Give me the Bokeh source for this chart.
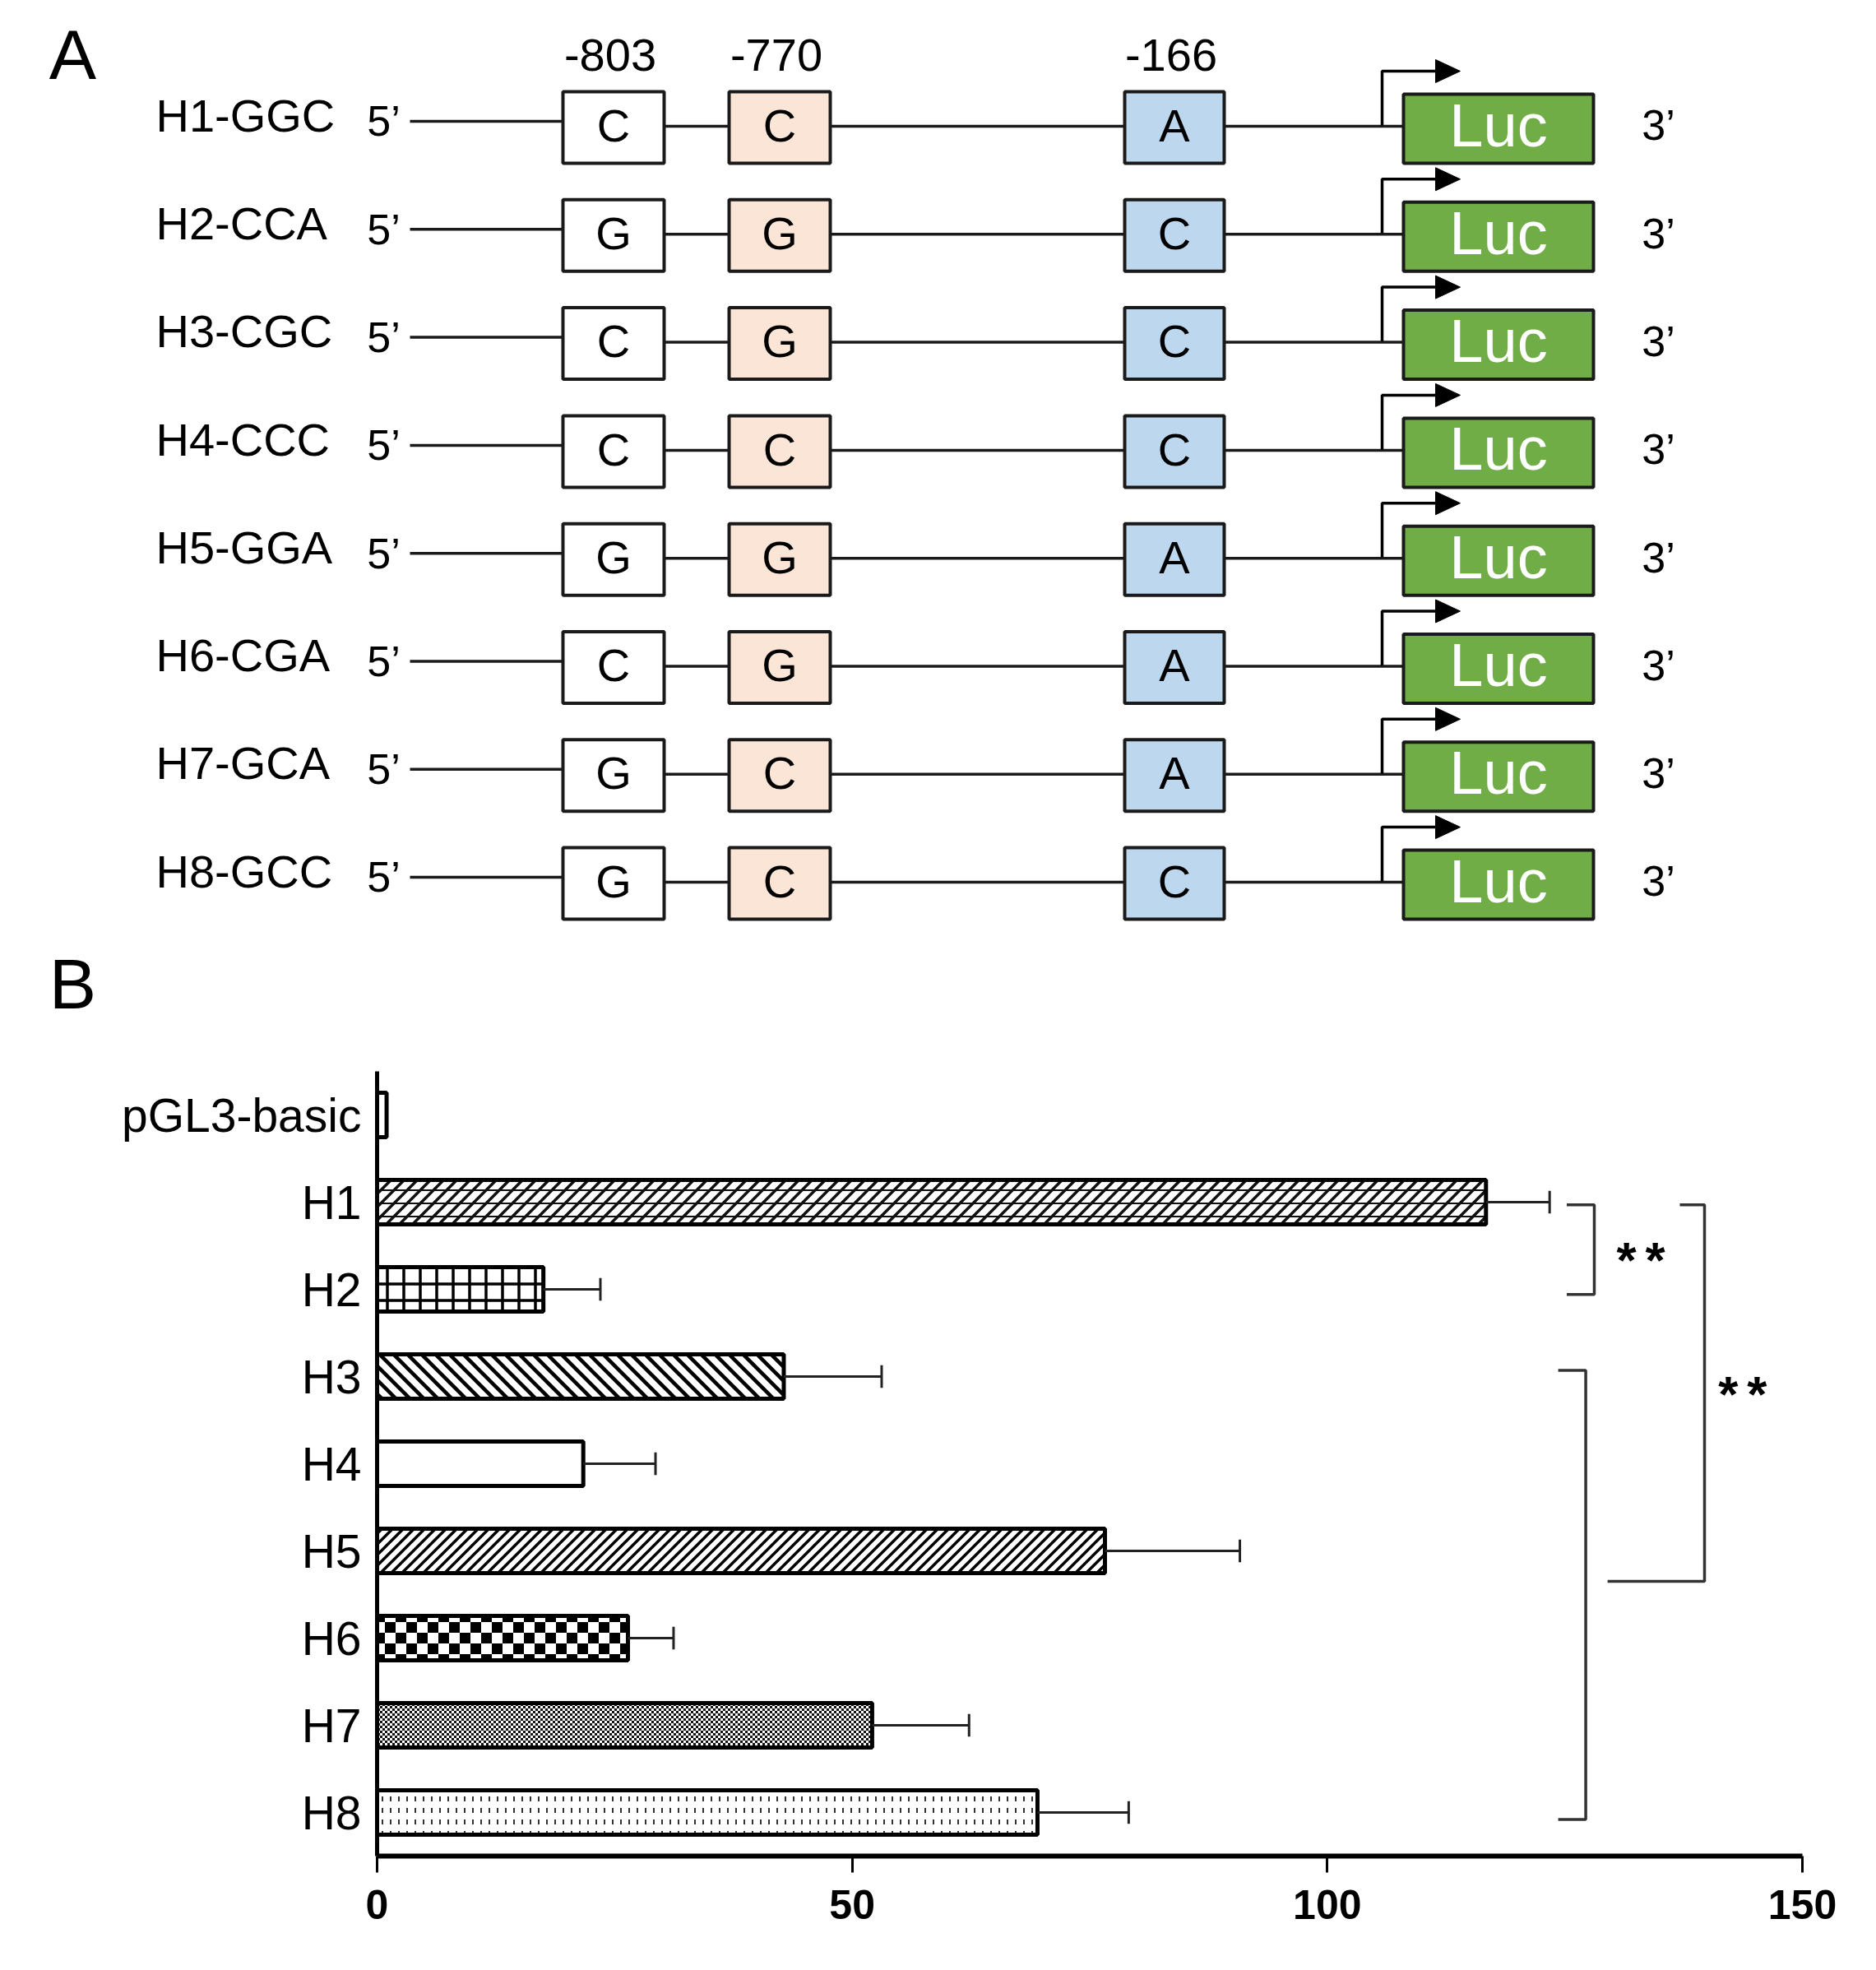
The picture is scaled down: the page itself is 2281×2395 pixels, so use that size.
from bokeh.plotting import figure
from bokeh.models import Range1d, FixedTicker, CanvasTexture
from bokeh.core.properties import value
from bokeh.embed import file_html
from bokeh.resources import INLINE

# ---------------- data ----------------
haplotypes = ["H1-GGC", "H2-CCA", "H3-CGC", "H4-CCC", "H5-GGA", "H6-CGA", "H7-GCA", "H8-GCC"]
snp_labels = ["-803", "-770", "-166"]
allele_803 = ["C", "G", "C", "C", "G", "C", "G", "G"]
allele_770 = ["C", "G", "G", "C", "G", "G", "C", "C"]
allele_166 = ["A", "C", "C", "C", "A", "A", "A", "C"]
reporter = "Luc"

constructs = ["pGL3-basic", "H1", "H2", "H3", "H4", "H5", "H6", "H7", "H8"]
activity = [1.0, 116.7, 17.5, 42.8, 21.7, 76.6, 26.4, 52.1, 69.5]
activity_err = [0.0, 6.7, 6.0, 10.3, 7.6, 14.2, 4.8, 10.2, 9.6]
x_ticks = [0, 50, 100, 150]
sig_label = "**"

# ---------------- style ----------------
FONT = "Liberation Sans"
W = 2265
HA = 1270
HB = 1109
INK = "#1a1a1a"

# ================= Panel A =================
pa = figure(width=W, height=HA, x_range=Range1d(0, W), y_range=Range1d(HA, 0),
            x_axis_type=None, y_axis_type=None, output_backend="svg",
            toolbar_location=None, min_border=0, outline_line_color=None)

n = len(haplotypes)
ROW0, ROW_STEP = 155.0, 131.3
rows = [ROW0 + i * ROW_STEP for i in range(n)]


def txt(p, xs, ys, texts, fs, align="center", color="black", style="normal"):
    # ys are the wanted centres of the capital letters
    p.text(x=xs, y=[y - 0.06 * fs for y in ys], text=texts, text_font=value(FONT),
           text_font_size=value(f"{fs}px"), text_align=align, text_baseline="alphabetic",
           text_color=color, text_font_style=style)


# panel letters
txt(pa, [88], [71], ["A"], 86)
txt(pa, [88], [1201], ["B"], 86)

# row labels, 5' and 3'
txt(pa, [189] * n, [y - 12 for y in rows], haplotypes, 56, align="left")
txt(pa, [466] * n, [y - 5 for y in rows], ["5\u2019"] * n, 52)
txt(pa, [2016] * n, [y for y in rows], ["3\u2019"] * n, 52)

# connecting lines
BOX_X = [745.5, 947.5, 1427.5]
BOX_W = [123, 123, 121]
BOX_H = 87
LUC_X, LUC_W, LUC_H = 1821.5, 231, 84
x0s, x1s, y0s = [], [], []
for y in rows:
    x0s += [498, BOX_X[0] + BOX_W[0] / 2, BOX_X[1] + BOX_W[1] / 2, BOX_X[2] + BOX_W[2] / 2]
    x1s += [BOX_X[0] - BOX_W[0] / 2, BOX_X[1] - BOX_W[1] / 2, BOX_X[2] - BOX_W[2] / 2, LUC_X - LUC_W / 2]
    y0s += [y - 8, y - 2, y - 2, y - 2]
pa.segment(x0=x0s, x1=x1s, y0=y0s, y1=y0s, line_color=INK, line_width=3.5)

# promoter arrows
ARR_X = 1680
pa.multi_line(xs=[[ARR_X, ARR_X, 1750] for _ in rows],
              ys=[[y - 3, y - 69, y - 69] for y in rows], line_color="black", line_width=3.5)
pa.patches(xs=[[1745, 1775, 1745] for _ in rows],
           ys=[[y - 83, y - 69, y - 55] for y in rows], fill_color="black", line_color="black")

# SNP boxes
box_fill = ["white", "#FBE5D6", "#BDD7EE"]
alleles = [allele_803, allele_770, allele_166]
for k in range(3):
    pa.rect(x=[BOX_X[k]] * n, y=[y - 0.5 for y in rows], width=BOX_W[k], height=BOX_H,
            fill_color=box_fill[k], line_color=INK, line_width=4)
    txt(pa, [BOX_X[k]] * n, rows, alleles[k], 56)
    txt(pa, [BOX_X[k] - 4], [70], [snp_labels[k]], 56)

# Luc boxes
pa.rect(x=[LUC_X] * n, y=[y + 1 for y in rows], width=LUC_W, height=LUC_H,
        fill_color="#70AD47", line_color=INK, line_width=4)
txt(pa, [LUC_X] * n, [y + 1 for y in rows], [reporter] * n, 74, color="white")

# ================= Panel B =================
m = len(constructs)
TOP = 1302 - HA
pb = figure(width=W, height=HB, x_range=Range1d(0, 150), y_range=Range1d(m - 0.5, -0.5),
            output_backend="svg", toolbar_location=None,
            min_border_left=458, min_border_right=W - 2191, min_border_top=TOP,
            min_border_bottom=HB - TOP - 954, outline_line_color=None)
pb.grid.visible = False


def tile(w, h, body):
    return f"const c = ctx.canvas; c.width = {w}; c.height = {h};" + body


def diag(s, lw, forward=True):
    if forward:   # "/"
        segs = [(-4, s + 4, s + 4, -4), (-4, 4, 4, -4), (s - 4, s + 4, s + 4, s - 4)]
    else:         # "\"
        segs = [(-4, -4, s + 4, s + 4), (s - 4, -4, s + 4, 4), (-4, s - 4, 4, s + 4)]
    body = f"ctx.strokeStyle = '#000000'; ctx.lineWidth = {lw}; ctx.beginPath();"
    for a, b, cc, d in segs:
        body += f"ctx.moveTo({a}, {b}); ctx.lineTo({cc}, {d});"
    return tile(s, s, body + "ctx.stroke();")


checker_big = tile(26, 26, "ctx.fillStyle = '#000000'; ctx.fillRect(0, 0, 13, 13); ctx.fillRect(13, 13, 13, 13);")
checker_small = tile(6, 6, "ctx.fillStyle = '#111111'; ctx.fillRect(0, 0, 3, 3); ctx.fillRect(3, 3, 3, 3);")
brick = tile(16, 16,
             "ctx.strokeStyle = '#111111'; ctx.lineWidth = 3.5; ctx.beginPath();"
             "ctx.moveTo(-4, 20); ctx.lineTo(20, -4);"
             "ctx.moveTo(-4, 4); ctx.lineTo(4, -4);"
             "ctx.moveTo(12, 20); ctx.lineTo(20, 12);"
             "ctx.stroke(); ctx.fillStyle = '#111111'; ctx.fillRect(0, 0, 16, 2);")
vdash = tile(10, 14, "ctx.fillStyle = '#333333'; ctx.fillRect(4, 4, 2, 6);")
left_diag = diag(17, 4.5, forward=False)
right_diag = diag(13, 3.5, forward=True)


def tex(name, code):
    return dict(hatch_pattern=value(name), hatch_extra={name: CanvasTexture(code=code)},
                hatch_color="black")


styles = {
    "pGL3-basic": dict(),
    "H1": tex("brick", brick),
    "H2": dict(hatch_pattern="+", hatch_scale=20, hatch_weight=3.5, hatch_color="black"),
    "H3": tex("ldiag", left_diag),
    "H4": dict(),
    "H5": tex("rdiag", right_diag),
    "H6": tex("chk", checker_big),
    "H7": tex("chk2", checker_small),
    "H8": tex("vd", vdash),
}

for i, c in enumerate(constructs):
    pb.hbar(y=[i], left=0, right=[activity[i]], height=0.51, fill_color="white",
            line_color="black", line_width=5, **styles[c])

# error bars (upper side only)
idx = [i for i in range(m) if activity_err[i] > 0]
ends = [activity[i] + activity_err[i] for i in idx]
pb.segment(x0=[activity[i] for i in idx], x1=ends, y0=idx, y1=idx, line_color="#222222", line_width=3)
pb.segment(x0=ends, x1=ends, y0=[i - 0.13 for i in idx], y1=[i + 0.13 for i in idx],
           line_color="#222222", line_width=3)

# significance brackets
i1, i2, i3, i5, i8 = (constructs.index(k) for k in ["H1", "H2", "H3", "H5", "H8"])
pb.multi_line(
    xs=[[125.2, 128.1, 128.1, 125.2],
        [137.1, 139.7, 139.7, 129.5],
        [124.3, 127.2, 127.2, 124.3]],
    ys=[[i1 + 0.03, i1 + 0.03, i2 + 0.06, i2 + 0.06],
        [i1 + 0.03, i1 + 0.03, i5 + 0.35, i5 + 0.35],
        [i3 - 0.07, i3 - 0.07, i8 + 0.08, i8 + 0.08]],
    line_color="#333333", line_width=3.5)

stars = list(sig_label)
for sx, sy in [(133.0, 1.58), (143.7, 3.11)]:
    pb.text(x=[sx] * len(stars), y=[sy] * len(stars), text=stars,
            x_offset=[-17.5, 17.5], y_offset=9, text_font=value(FONT),
            text_font_size=value("62px"), text_font_style="bold",
            text_align="center", text_baseline="alphabetic", text_color="black")

# axes
xa = pb.xaxis[0]
xa.ticker = FixedTicker(ticks=x_ticks)
xa.axis_line_width = 6
xa.axis_line_color = "black"
xa.major_tick_line_width = 3
xa.major_tick_line_color = "black"
xa.major_tick_out = 20
xa.major_tick_in = 0
xa.minor_tick_out = 0
xa.minor_tick_in = 0
xa.major_label_text_font = FONT
xa.major_label_text_font_style = "bold"
xa.major_label_text_font_size = "50px"
xa.major_label_text_color = "black"
xa.major_label_standoff = 21

ya = pb.yaxis[0]
ya.ticker = FixedTicker(ticks=list(range(m)))
ya.major_label_overrides = {i: c for i, c in enumerate(constructs)}
ya.axis_line_width = 5
ya.axis_line_color = "black"
ya.major_tick_out = 0
ya.major_tick_in = 0
ya.minor_tick_out = 0
ya.minor_tick_in = 0
ya.major_label_text_font = FONT
ya.major_label_text_font_size = "57px"
ya.major_label_text_color = "black"
ya.major_label_standoff = 19

open("out.html", "w").write(file_html([pa, pb], INLINE))
